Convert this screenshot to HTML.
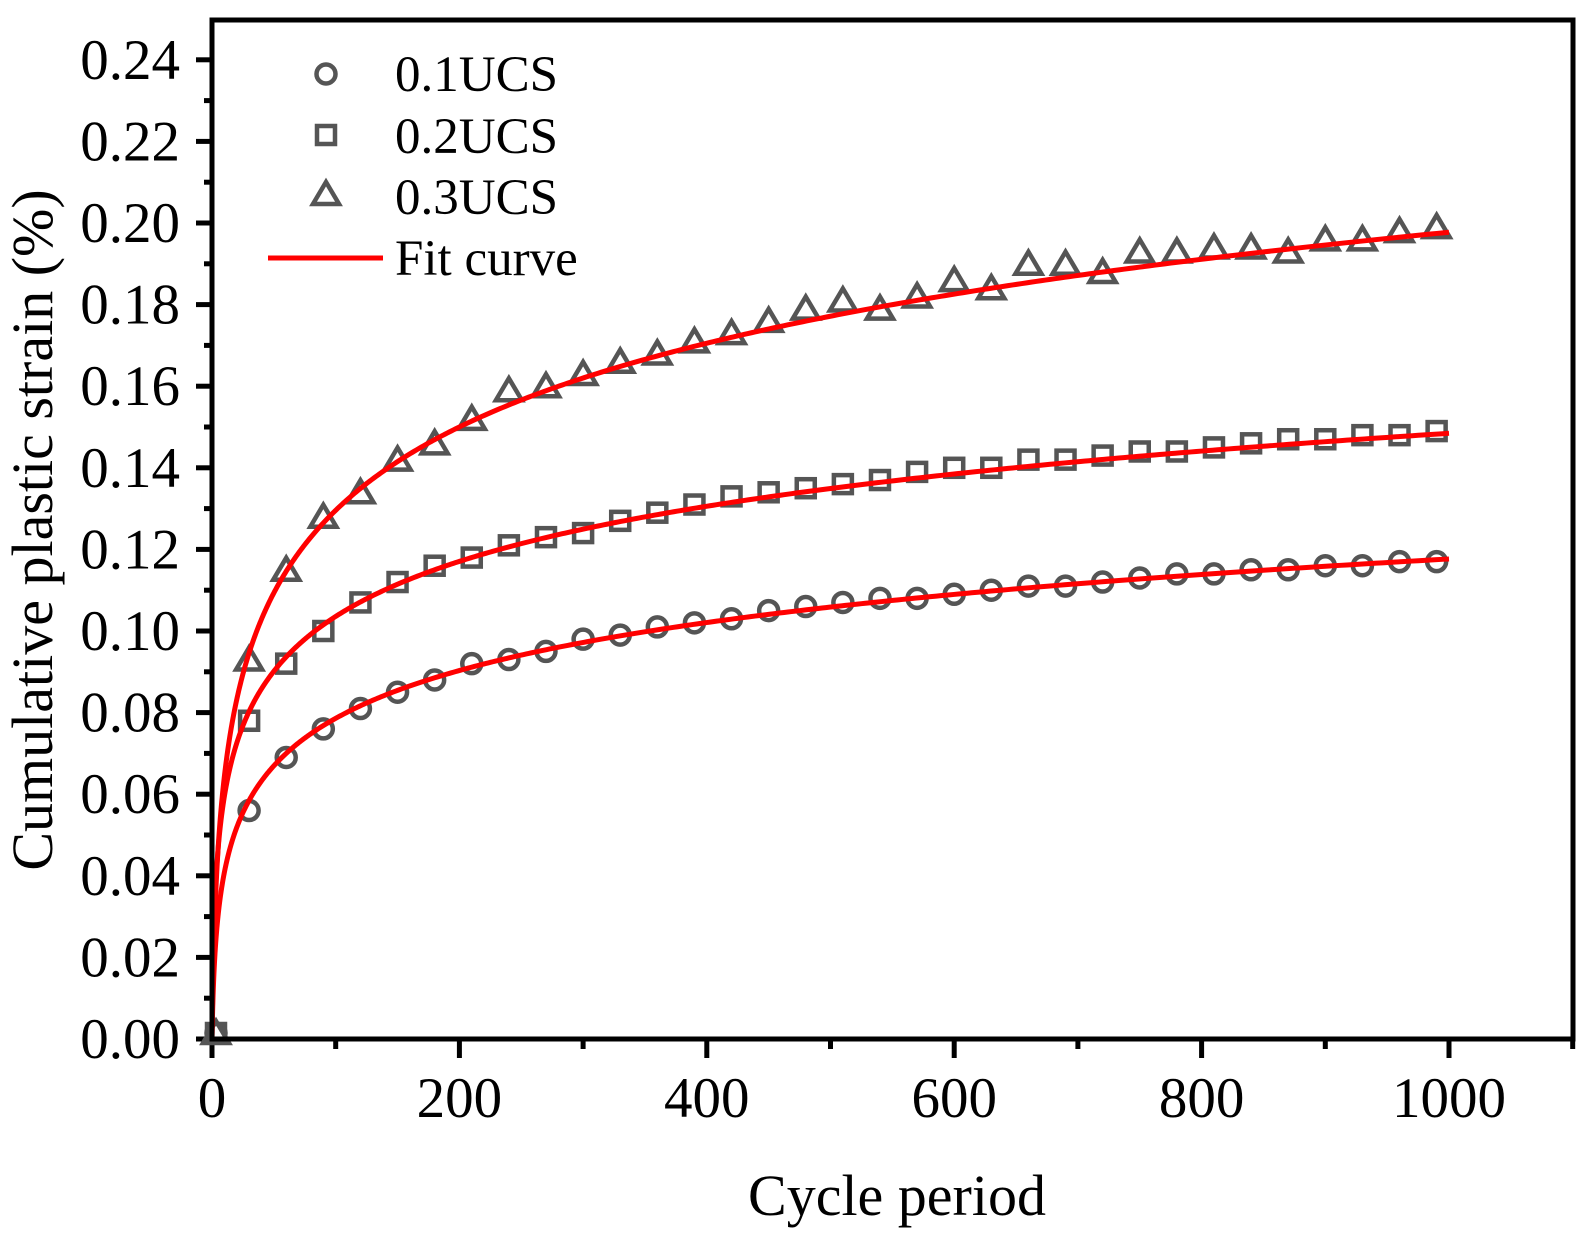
<!DOCTYPE html>
<html><head><meta charset="utf-8"><style>
body{margin:0;background:#fff}
svg{display:block}
text{font-family:"Liberation Serif",serif;fill:#000}
</style></head><body>
<svg id="s" width="1590" height="1244" viewBox="0 0 1590 1244" xmlns="http://www.w3.org/2000/svg">
<rect width="1590" height="1244" fill="#fff"/>
<g id="ticks" stroke="#000" stroke-width="5"></g>
<g id="data"></g>
<g id="fit" fill="none" stroke="#f00" stroke-width="5"></g>
<rect x="212" y="20" width="1361" height="1019" fill="none" stroke="#000" stroke-width="5"/>
<g id="labels" font-size="57"></g>
<text x="897" y="1215" font-size="58" text-anchor="middle">Cycle period</text>
<text transform="translate(52,530) rotate(-90)" font-size="58" text-anchor="middle">Cumulative plastic strain (%)</text>
<g font-size="51">
<circle cx="326" cy="74" r="9.5" fill="none" stroke="#555" stroke-width="4.5"/>
<rect x="317" y="126" width="18" height="18" fill="none" stroke="#555" stroke-width="4.5"/>
<polygon points="313,204 339,204 326,182" fill="none" stroke="#555" stroke-width="4.5"/>
<line x1="268" y1="258" x2="383" y2="258" stroke="#f00" stroke-width="5"/>
<text x="395" y="91">0.1UCS</text>
<text x="395" y="153">0.2UCS</text>
<text x="395" y="214">0.3UCS</text>
<text x="395" y="275">Fit curve</text>
</g>
</svg>
<script>
var NS="http://www.w3.org/2000/svg";
function px(x){return 212+1.237*x}
function py(v){return 1039-4080*v}
function el(t,a,p){var e=document.createElementNS(NS,t);for(var k in a)e.setAttribute(k,a[k]);p.appendChild(e);return e}
var T=document.getElementById('ticks'),L=document.getElementById('labels');
for(var i=0;i<=24;i++){var y=py(i*0.01);el('line',{x1:i%2?204:196,x2:212,y1:y,y2:y},T);
 if(i%2==0){var t=el('text',{x:180,y:y+19,'text-anchor':'end'},L);t.textContent=(i/100).toFixed(2);}}
for(var x=0;x<=1100;x+=100){var X=px(x);el('line',{x1:X,x2:X,y1:1039,y2:x%200?1049:1058},T);
 if(x%200==0&&x<=1000){var t=el('text',{x:X,y:1117,'text-anchor':'middle'},L);t.textContent=x;}}
var d1=[0,.056,.069,.076,.081,.085,.088,.092,.093,.095,.098,.099,.101,.102,.103,.105,.106,.107,.108,.108,.109,.110,.111,.111,.112,.113,.114,.114,.115,.115,.116,.116,.117,.117];
var d2=[0,.078,.092,.100,.107,.112,.116,.118,.121,.123,.124,.127,.129,.131,.133,.134,.135,.136,.137,.139,.140,.140,.142,.142,.143,.144,.144,.145,.146,.147,.147,.148,.148,.149];
var d3=[0,.093,.115,.128,.134,.142,.146,.152,.159,.160,.163,.166,.168,.171,.173,.176,.179,.181,.179,.182,.186,.184,.190,.190,.188,.193,.193,.194,.194,.193,.196,.196,.198,.199];
var D=document.getElementById('data');
var st={fill:'none',stroke:'#555','stroke-width':4.5};
function m(type,x,y){var a=Object.assign({},st);
 if(type==0){a.cx=x;a.cy=y;a.r=9.5;el('circle',a,D);}
 else if(type==1){a.x=x-9;a.y=y-9;a.width=18;a.height=18;el('rect',a,D);}
 else{a.points=(x-13)+','+(y+10)+' '+(x+13)+','+(y+10)+' '+x+','+(y-12);el('polygon',a,D);}}
[d1,d2,d3].forEach(function(d,k){d.forEach(function(v,i){m(k,px(i*30)+(i==0?4:0),py(v)-(i==0?6:0));});});
var F=document.getElementById('fit');
[[0.01703,1],[0.01953,0.5],[0.02975,1.3]].forEach(function(p){var s='';
 for(var j=0;j<=600;j++){var x=1000*Math.pow(j/600,3);var v=p[0]*Math.log(1+x/p[1]);s+=(j?'L':'M')+px(x).toFixed(2)+','+py(v).toFixed(2);}
 el('path',{d:s},F);});
</script>
</body></html>
